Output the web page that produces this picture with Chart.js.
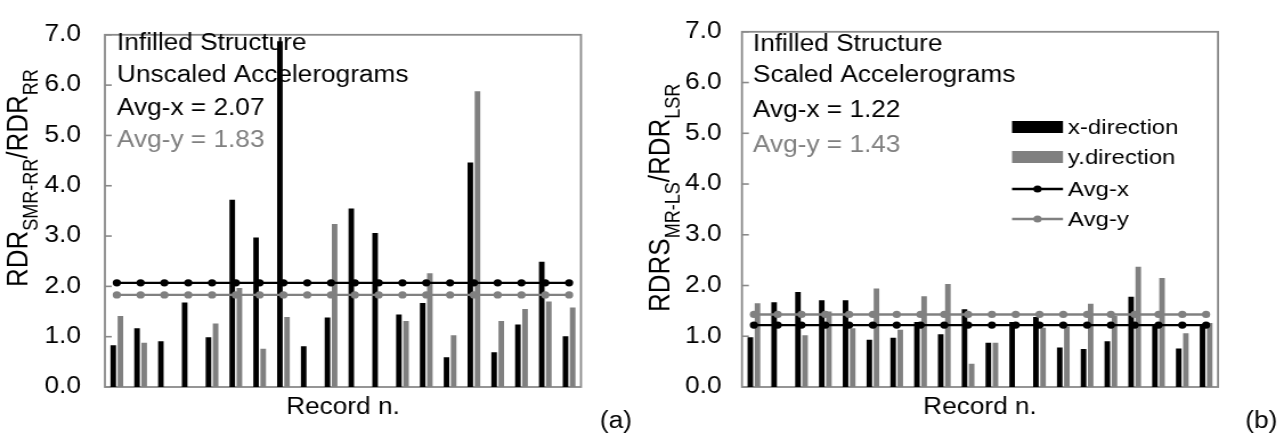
<!DOCTYPE html>
<html>
<head>
<meta charset="utf-8">
<script src="https://cdn.jsdelivr.net/npm/chart.js@4.4.0/dist/chart.umd.min.js"></script>
<style>
    html, body { margin: 0; padding: 0; background: #fff; }
    #wrap { display: flex; width: 1284px; height: 439px; overflow: hidden; }
</style>
</head>
<body>
<div id="wrap">
    <canvas id="chartA" width="563" height="439" style="width:642px;height:439px"></canvas>
    <canvas id="chartB" width="563" height="439" style="width:642px;height:439px"></canvas>
</div>
<script>
// Registros sísmicos (20 acelerogramas)
const records = ['1', '2', '3', '4', '5', '6', '7', '8', '9', '10',
                 '11', '12', '13', '14', '15', '16', '17', '18', '19', '20'];

// (a) acelerogramas sin escalar
const unscaledX = [0.83, 1.17, 0.91, 1.68, 0.99, 3.72, 2.97, 6.87, 0.81, 1.38,
                   3.55, 3.06, 1.44, 1.67, 0.59, 4.46, 0.69, 1.24, 2.49, 1.01];
const unscaledY = [1.41, 0.88, null, null, 1.26, 1.97, 0.76, 1.39, null, 3.24,
                   null, null, 1.31, 2.26, 1.03, 5.88, 1.31, 1.55, 1.70, 1.58];
const avgUnscaledX = 2.07;
const avgUnscaledY = 1.83;

// (b) acelerogramas escalados
const scaledX = [0.98, 1.67, 1.87, 1.71, 1.71, 0.93, 0.97, 1.28, 1.04, 1.53,
                 0.87, 1.28, 1.38, 0.78, 0.75, 0.90, 1.78, 1.22, 0.76, 1.22];
const scaledY = [1.65, null, 1.02, 1.49, 1.16, 1.94, 1.13, 1.79, 2.03, 0.46,
                 0.87, null, 1.17, 1.19, 1.64, 1.40, 2.37, 2.15, 1.06, 1.26];
const avgScaledX = 1.22;
const avgScaledY = 1.43;

const yMin = 0;
const yMax = 7;
const yStep = 1;

const FONT = '"Liberation Sans", Arial, sans-serif';
const BLACK = '#000000';
const GREY = '#808080';
const FRAME = '#8a8a8a';

// Marco, marcas interiores del eje y textos de cada panel
function panelDecor(cfg) {
    return {
        id: 'panelDecor',
        beforeDatasetsDraw(chart) {
            const ctx = chart.ctx;
            const a = chart.chartArea;
            const y = chart.scales.y;
            ctx.save();
            ctx.strokeStyle = FRAME;
            ctx.lineWidth = 1.6;
            y.ticks.forEach(t => {
                const py = y.getPixelForValue(t.value);
                ctx.beginPath();
                ctx.moveTo(a.left, py);
                ctx.lineTo(a.left + 6, py);
                ctx.stroke();
            });
            ctx.lineWidth = 1.8;
            ctx.strokeRect(a.left, a.top, a.right - a.left, a.bottom - a.top);
            ctx.restore();
        },
        afterDraw(chart) {
            const ctx = chart.ctx;
            const a = chart.chartArea;
            ctx.save();
            ctx.textBaseline = 'alphabetic';

            // notas dentro del gráfico
            ctx.font = `23px ${FONT}`;
            ctx.textAlign = 'left';
            cfg.notes.forEach((n, i) => {
                ctx.fillStyle = n.color;
                ctx.fillText(n.text, cfg.noteX, cfg.noteY[i]);
            });

            // título del eje x
            ctx.fillStyle = BLACK;
            ctx.textAlign = 'center';
            ctx.fillText('Record n.', (a.left + a.right) / 2, 414);

            // etiqueta del panel
            ctx.textAlign = 'left';
            ctx.fillText(cfg.tag, cfg.tagX, 428);

            // título del eje y con subíndices
            ctx.translate(24, cfg.titleStart);
            ctx.rotate(-Math.PI / 2);
            let cx = 0;
            cfg.title.forEach(p => {
                ctx.font = `${p.sub ? 18 : 26}px ${FONT}`;
                ctx.fillText(p.text, cx, p.sub ? 9 : 0);
                cx += ctx.measureText(p.text).width;
            });
            ctx.restore();

            if (cfg.legend) drawLegend(chart, cfg.legend);
        }
    };
}

// Leyenda dentro del área del gráfico (panel b)
function drawLegend(chart, lg) {
    const ctx = chart.ctx;
    ctx.save();
    ctx.font = `21px ${FONT}`;
    ctx.textAlign = 'left';
    ctx.textBaseline = 'middle';
    chart.data.datasets.forEach((ds, i) => {
        const cy = lg.rows[i];
        if (ds.type === 'line') {
            ctx.strokeStyle = ds.borderColor;
            ctx.lineWidth = ds.borderWidth;
            ctx.beginPath();
            ctx.moveTo(lg.x0, cy);
            ctx.lineTo(lg.x1, cy);
            ctx.stroke();
            ctx.fillStyle = ds.borderColor;
            ctx.beginPath();
            ctx.arc((lg.x0 + lg.x1) / 2, cy, ds.pointRadius, 0, Math.PI * 2);
            ctx.fill();
        } else {
            ctx.fillStyle = ds.backgroundColor;
            ctx.fillRect(lg.x0, cy - 6, lg.x1 - lg.x0, 12);
        }
        ctx.fillStyle = BLACK;
        ctx.fillText(ds.label, lg.textX, cy + 1);
    });
    ctx.restore();
}

function buildChart(canvasId, xVals, yVals, avgX, avgY, opts) {
    const datasets = [
        {
            label: 'x-direction',
            data: xVals,
            backgroundColor: BLACK,
            categoryPercentage: 0.6,
            barPercentage: 0.78,
            order: 2
        },
        {
            label: 'y.direction',
            data: yVals,
            backgroundColor: GREY,
            categoryPercentage: 0.6,
            barPercentage: 0.78,
            order: 2
        },
        {
            type: 'line',
            label: 'Avg-x',
            data: records.map(() => avgX),
            borderColor: BLACK,
            backgroundColor: BLACK,
            borderWidth: 2.4,
            pointRadius: 3.6,
            pointBorderWidth: 0,
            pointBackgroundColor: BLACK,
            order: 0
        },
        {
            type: 'line',
            label: 'Avg-y',
            data: records.map(() => avgY),
            borderColor: GREY,
            backgroundColor: GREY,
            borderWidth: 2.4,
            pointRadius: 3.6,
            pointBorderWidth: 0,
            pointBackgroundColor: GREY,
            order: 1
        }
    ];

    return new Chart(document.getElementById(canvasId), {
        type: 'bar',
        data: { labels: records, datasets },
        options: {
            responsive: false,
            animation: false,
            layout: { padding: { top: 23, right: opts.padRight, left: 0, bottom: 0 } },
            plugins: {
                legend: { display: false },
                tooltip: { enabled: false }
            },
            scales: {
                x: {
                    ticks: { display: false },
                    grid: { display: false },
                    border: { display: false },
                    afterFit: s => { s.height = 52; }
                },
                y: {
                    min: yMin,
                    max: yMax,
                    ticks: {
                        stepSize: yStep,
                        padding: opts.tickPad,
                        color: BLACK,
                        font: { family: FONT, size: 23 },
                        callback: v => Number(v).toFixed(1)
                    },
                    grid: { display: false, drawTicks: false },
                    border: { display: false },
                    afterFit: s => { s.width = opts.axisWidth; }
                }
            }
        },
        plugins: [panelDecor(opts)]
    });
}

buildChart('chartA', unscaledX, unscaledY, avgUnscaledX, avgUnscaledY, {
    padRight: 53.5,
    axisWidth: 92,
    tickPad: 21,
    noteX: 102.6,
    noteY: [50, 82, 115, 147],
    notes: [
        { text: 'Infilled Structure', color: BLACK },
        { text: 'Unscaled Accelerograms', color: BLACK },
        { text: 'Avg-x = ' + avgUnscaledX.toFixed(2), color: BLACK },
        { text: 'Avg-y = ' + avgUnscaledY.toFixed(2), color: GREY }
    ],
    tag: '(a)',
    tagX: 526,
    titleStart: 287,
    title: [
        { text: 'RDR' }, { text: 'SMR-RR', sub: true },
        { text: '/RDR' }, { text: 'RR', sub: true }
    ]
});

buildChart('chartB', scaledX, scaledY, avgScaledX, avgScaledY, {
    padRight: 57.9,
    axisWidth: 87.7,
    tickPad: 18,
    noteX: 97.3,
    noteY: [51, 82, 117, 152],
    notes: [
        { text: 'Infilled Structure', color: BLACK },
        { text: 'Scaled Accelerograms', color: BLACK },
        { text: 'Avg-x = ' + avgScaledX.toFixed(2), color: BLACK },
        { text: 'Avg-y = ' + avgScaledY.toFixed(2), color: GREY }
    ],
    tag: '(b)',
    tagX: 529,
    titleStart: 312,
    title: [
        { text: 'RDRS' }, { text: 'MR-LS', sub: true },
        { text: '/RDR' }, { text: 'LSR', sub: true }
    ],
    legend: { x0: 324.5, x1: 369.2, textX: 373.6, rows: [127, 157, 189, 219] }
});
</script>
</body>
</html>
